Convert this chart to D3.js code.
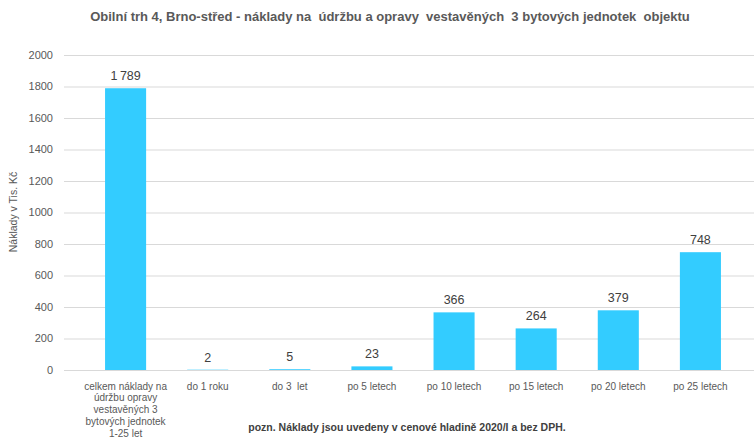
<!DOCTYPE html>
<html>
<head>
<meta charset="utf-8">
<script src="https://cdn.jsdelivr.net/npm/d3@7"></script>
<style>
body { margin: 0; background: #fff; }
text { font-family: "Liberation Sans", Arial, sans-serif; white-space: pre; }
</style>
</head>
<body>
<div id="chart"></div>
<script>
var categories = [
    ["celkem náklady na", "údržbu opravy", "vestavěných 3", "bytových jednotek", "1-25 let"],
    ["do 1 roku"], ["do 3  let"], ["po 5 letech"], ["po 10 letech"],
    ["po 15 letech"], ["po 20 letech"], ["po 25 letech"]
];
var values = [1789, 2, 5, 23, 366, 264, 379, 748];
var yTicks = [0, 200, 400, 600, 800, 1000, 1200, 1400, 1600, 1800, 2000];

var title = "Obilní trh 4, Brno-střed - náklady na  údržbu a opravy  vestavěných  3 bytových jednotek  objektu";
var note = "pozn. Náklady jsou uvedeny v cenové hladině 2020/I a bez DPH.";

var width = 754, height = 439;
var svg = d3.select("#chart").append("svg")
    .attr("width", width)
    .attr("height", height);

var x = d3.scaleBand().domain(d3.range(values.length)).range([64, 762]).padding(0.5);
var y = d3.scaleLinear().domain([0, 2000]).range([370, 55]);

var fmt = d3.formatLocale({decimal: ",", thousands: "\u2009", grouping: [3], currency: ["", " Kč"]}).format(",d");

// gridlines
svg.append("g").selectAll("line")
    .data(yTicks)
    .enter().append("line")
    .attr("x1", 64).attr("x2", 762)
    .attr("y1", function(d) { return y(d) + 0.5; })
    .attr("y2", function(d) { return y(d) + 0.5; })
    .style("stroke", "#d9d9d9")
    .style("stroke-width", 1);

// y tick labels
svg.append("g").selectAll("text")
    .data(yTicks)
    .enter().append("text")
    .attr("x", 53)
    .attr("y", function(d) { return y(d); })
    .attr("dy", "0.35em")
    .style("text-anchor", "end")
    .style("font-size", "11px")
    .style("fill", "#595959")
    .text(function(d) { return d; });

// bars
svg.append("g").selectAll("rect")
    .data(values)
    .enter().append("rect")
    .attr("x", function(d, i) { return x(i); })
    .attr("width", x.bandwidth())
    .attr("y", function(d) { return y(d); })
    .attr("height", function(d) { return y(0) - y(d); })
    .style("fill", "#33ccff");

// value labels
svg.append("g").selectAll("text")
    .data(values)
    .enter().append("text")
    .attr("x", function(d, i) { return x(i) + x.bandwidth() / 2; })
    .attr("y", function(d) { return y(d) - 8; })
    .style("text-anchor", "middle")
    .style("font-size", "12.5px")
    .style("fill", "#404040")
    .text(function(d) { return fmt(d); });

// category labels
var cat = svg.append("g").selectAll("text")
    .data(categories)
    .enter().append("text")
    .attr("x", function(d, i) { return x(i) + x.bandwidth() / 2; })
    .attr("y", 389.5)
    .style("text-anchor", "middle")
    .style("font-size", "10px")
    .style("fill", "#595959");
cat.selectAll("tspan")
    .data(function(d) { return d; })
    .enter().append("tspan")
    .attr("x", function() { return d3.select(this.parentNode).attr("x"); })
    .attr("dy", function(d, j) { return j === 0 ? 0 : 11.8; })
    .text(function(d) { return d; });

// title
svg.append("text")
    .attr("x", 390)
    .attr("y", 21)
    .style("text-anchor", "middle")
    .style("font-size", "13px")
    .style("font-weight", "bold")
    .style("fill", "#595959")
    .text(title);

// y axis title
svg.append("text")
    .attr("transform", "translate(17,212) rotate(-90)")
    .style("text-anchor", "middle")
    .style("font-size", "10.5px")
    .style("fill", "#595959")
    .text("Náklady v Tis. Kč");

// footnote
svg.append("text")
    .attr("x", 407)
    .attr("y", 431)
    .style("text-anchor", "middle")
    .style("font-size", "10.5px")
    .style("font-weight", "bold")
    .style("fill", "#404040")
    .text(note);
</script>
</body>
</html>
